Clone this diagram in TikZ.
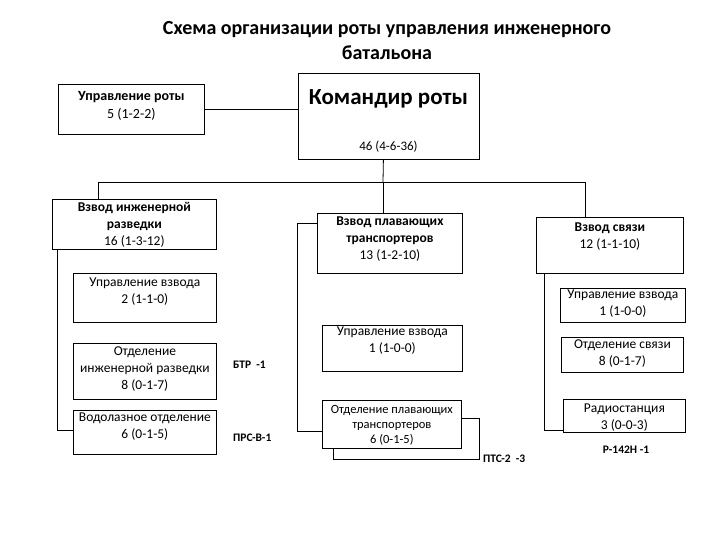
\documentclass[tikz,border=0pt]{standalone}
\usepackage{fontspec}
\setmainfont{Carlito}
\usetikzlibrary{calc}
\begin{document}
\begin{tikzpicture}[x=1pt,y=-1pt,
  box/.style={draw, line width=0.8pt, fill=white, anchor=north west, inner sep=0pt},
  txt/.style={anchor=north, align=center, inner sep=0pt, font=\fontsize{13.5}{17}\selectfont},
  eq/.style={anchor=west, inner sep=0pt, font=\fontsize{11.5}{13}\selectfont\bfseries},
  ln/.style={line width=0.8pt}]
\useasboundingbox[fill=white] (0,0) rectangle (720,540);

% title
\node[anchor=north, align=center, inner sep=0pt, font=\fontsize{20}{25}\selectfont\bfseries] (title) at (387,21)
  {Схема организации роты управления инженерного\\батальона};

% top level
\node[box, minimum width=146pt, minimum height=50pt] (ur) at (58,84) {};
\node[txt, font=\fontsize{14}{18}\selectfont] (urt) at (ur.north) [yshift=-7.5pt] {{\bfseries Управление роты}\\5 (1-2-2)};

\node[box, minimum width=181pt, minimum height=86pt] (kr) at (298,73) {};
\node[inner sep=0pt, font=\fontsize{23}{26}\selectfont\bfseries] (krt) at (388.5,99) {Командир роты};
\node[inner sep=0pt, font=\fontsize{13}{15}\selectfont] (krn) at (388.5,147) {46 (4-6-36)};

\draw[ln] (ur.east) -- (kr.west |- ur.east);

% bus
\coordinate (b1) at (98,182);
\coordinate (b2) at (383,182);
\coordinate (b3) at (585,182);
\draw[ln] ($(kr.south)+(-5.5,0)$) -- (b2);
\draw[ln] (b1) -- (b3);

% platoon 1
\node[box, minimum width=164pt, minimum height=50pt] (vir) at (52,199) {};
\node[txt] (virt) at (vir.north) [yshift=-3.5pt] {{\bfseries Взвод инженерной}\\{\bfseries разведки}\\16 (1-3-12)};
\draw[ln] (b1) -- (b1 |- vir.north);

\node[box, minimum width=143pt, minimum height=49pt] (uv1) at (73,273) {};
\node[txt] (uv1t) at (uv1.north) [yshift=-5pt] {Управление взвода\\2 (1-1-0)};
\node[box, minimum width=143pt, minimum height=56pt] (oir) at (73,343) {};
\node[txt] (oirt) at (oir.north) [yshift=-4pt] {Отделение\\инженерной разведки\\8 (0-1-7)};
\node[box, minimum width=143pt, minimum height=44pt] (vod) at (73,410) {};
\node[txt] (vodt) at (vod.north) [yshift=-3pt] {Водолазное отделение\\6 (0-1-5)};

\coordinate (lb) at ($(vir.south west)+(5,0)$);
\draw[ln] (lb) |- ($(vod.west)+(0,-2)$);
\draw[ln] ($(uv1.west)+(0,1.5)$) -- ($(uv1.west)+(0,1.5)$ -| lb);
\draw[ln] ($(oir.west)+(0,-9)$) -- ($(oir.west)+(0,-9)$ -| lb);

\node[eq] (btr) at (233,365) {БТР~~-1};
\node[eq] (prs) at (233,438) {ПРС-В-1};

% platoon 2
\node[box, minimum width=145pt, minimum height=60pt] (vpt) at (317,213) {};
\node[txt] (vptt) at (vpt.north) [yshift=-4pt] {{\bfseries Взвод плавающих}\\{\bfseries транспортеров}\\13 (1-2-10)};
\draw[ln] (b2) -- (b2 |- vpt.north);

\node[box, minimum width=140pt, minimum height=46pt] (uv2) at (322,325) {};
\node[txt] (uv2t) at (uv2.north) [yshift=-2pt] {Управление взвода\\1 (1-0-0)};

\node[box, minimum width=146pt, minimum height=41pt] (optb) at (333,418) {};
\node[box, minimum width=139pt, minimum height=48pt] (opt) at (322,400) {};
\node[txt, font=\fontsize{12.5}{15}\selectfont] (optt) at (opt.north) [yshift=-5pt] {Отделение плавающих\\транспортеров\\6 (0-1-5)};

\coordinate (mb) at ($(vpt.north west)+(-20,10)$);
\draw[ln] ($(vpt.north west)+(0,10)$) -- (mb) |- ($(opt.west)+(0,7)$);
\draw[ln] ($(uv2.west)+(0,5)$) -- ($(uv2.west)+(0,5)$ -| mb);

\node[eq] (pts) at (483,459) {ПТС-2~~-3};

% platoon 3
\node[box, minimum width=147pt, minimum height=56pt] (vs) at (536,217) {};
\node[txt] (vst) at (vs.north) [yshift=-6pt] {{\bfseries Взвод связи}\\12 (1-1-10)};
\draw[ln] (b3) -- (b3 |- vs.north);

\node[box, minimum width=125pt, minimum height=34pt] (uv3) at (560,288) {};
\node[txt] (uv3t) at (uv3.north) [yshift=-2pt] {Управление взвода\\1 (1-0-0)};
\node[box, minimum width=122pt, minimum height=35pt] (osv) at (561,337) {};
\node[txt] (osvt) at (osv.north) [yshift=-3pt] {Отделение связи\\8 (0-1-7)};
\node[box, minimum width=122pt, minimum height=33pt] (rad) at (563,399) {};
\node[txt] (radt) at (rad.north) [yshift=-5pt] {Радиостанция\\3 (0-0-3)};

\coordinate (rb) at ($(vs.south west)+(8,0)$);
\draw[ln] (rb) |- ($(rad.west)+(0,14)$);
\draw[ln] ($(uv3.west)+(0,-10)$) -- ($(uv3.west)+(0,-10)$ -| rb);
\draw[ln] ($(osv.west)+(0,2)$) -- ($(osv.west)+(0,2)$ -| rb);

\node[eq, anchor=center] (r142) at (626,450) {Р-142Н -1};
\end{tikzpicture}
\end{document}
